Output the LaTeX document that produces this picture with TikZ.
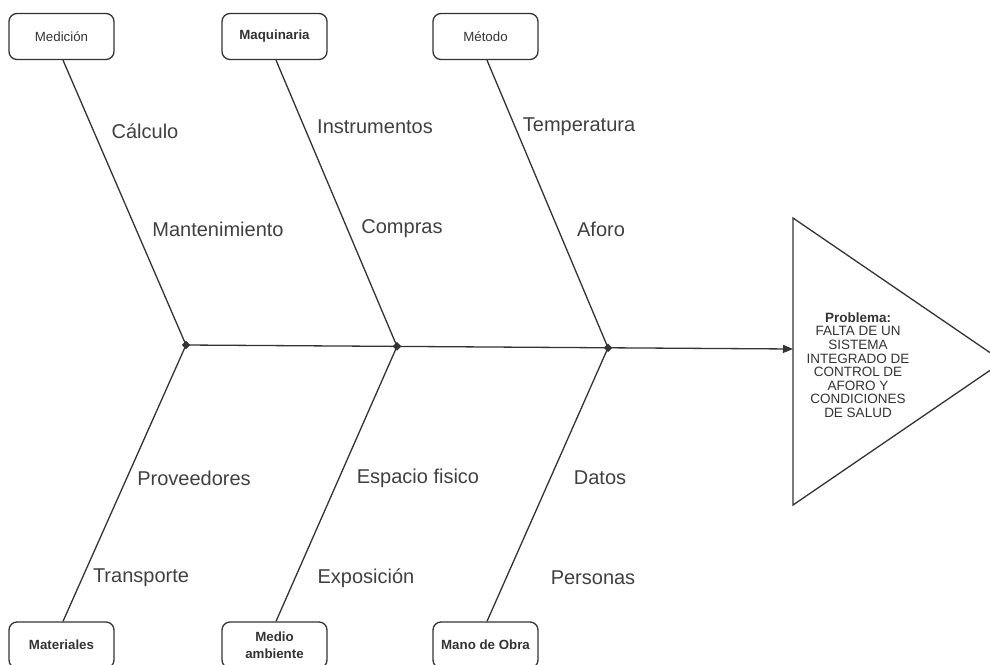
\documentclass[tikz,border=0pt]{standalone}
\usepackage{fontspec}
\setmainfont{Liberation Sans}
\usetikzlibrary{arrows.meta,shapes.geometric}
\definecolor{ink}{HTML}{333333}
\definecolor{labelgray}{HTML}{404040}
\begin{document}
\begin{tikzpicture}[x=1pt,y=-1pt,
  catbox/.style={draw=ink, line width=1.3pt, rounded corners=8pt, minimum width=105pt,
    minimum height=46pt, inner sep=0pt, text=ink, align=center,
    font=\fontsize{13.3}{14.5}\selectfont},
  cause/.style={text=labelgray, inner sep=0pt, font=\fontsize{20}{24}\selectfont},
  bone/.style={draw=ink, line width=1.3pt},
  joint/.style={diamond, fill=ink, draw=ink, inner sep=0pt, minimum size=8pt},
]
\useasboundingbox (0,0) rectangle (990,664);

% category boxes
\node[catbox] (med)  at (61.5,36.5)  {Medición};
\node[catbox] (maq)  at (274.5,36.5) {\bfseries Maquinaria};
\node[catbox] (met)  at (485.5,36.5) {Método};
\node[catbox] (mat)  at (61.5,645)   {\bfseries Materiales};
\node[catbox, font=\fontsize{13.3}{16.5}\selectfont] (amb) at (274.5,645) {\bfseries Medio\\\bfseries ambiente};
\node[catbox] (mano) at (485.5,645)  {\bfseries Mano de Obra};

% head of the fish
\coordinate (tA) at (793,218);
\coordinate (tB) at (1003,361.5);
\coordinate (tC) at (793,505);
\coordinate (head) at (793,349);
\draw[bone] (tA) -- (tB) -- (tC) -- cycle;
\node[text=ink, align=center, font=\fontsize{13.5}{13.6}\selectfont] (prob) at (858,365)
  {\textbf{Problema:}\\FALTA DE UN\\SISTEMA\\INTEGRADO DE\\CONTROL DE\\AFORO Y\\CONDICIONES\\DE SALUD};

% spine joints
\coordinate (j1) at (186,345);
\coordinate (j2) at (397,346.4);
\coordinate (j3) at (608,347.8);

% spine
\draw[bone, -{Triangle[length=10pt,width=8pt]}] (j1) -- (head);

% bones
\draw[bone] ([xshift=1.5pt]med.south) -- (j1);
\draw[bone] ([xshift=1.5pt]maq.south) -- (j2);
\draw[bone] ([xshift=1.5pt]met.south) -- (j3);
\draw[bone] ([xshift=1.5pt]mat.north) -- (j1);
\draw[bone] ([xshift=1.5pt]amb.north) -- (j2);
\draw[bone] ([xshift=1.5pt]mano.north) -- (j3);

\node[joint] (d1) at (j1) {};
\node[joint] (d2) at (j2) {};
\node[joint] (d3) at (j3) {};

% causes
\node[cause] (c1)  at (145,131) {Cálculo};
\node[cause] (c2)  at (218,229) {Mantenimiento};
\node[cause] (c3)  at (375,127) {Instrumentos};
\node[cause] (c4)  at (402,229) {Compras};
\node[cause] (c5)  at (579,127) {Temperatura};
\node[cause] (c6)  at (601,229) {Aforo};
\node[cause] (c7)  at (194,478) {Proveedores};
\node[cause] (c8)  at (141,578) {Transporte};
\node[cause] (c9)  at (418,478) {Espacio fisico};
\node[cause] (c10) at (366,578) {Exposición};
\node[cause] (c11) at (600,478) {Datos};
\node[cause] (c12) at (593,578) {Personas};
\end{tikzpicture}
\end{document}
